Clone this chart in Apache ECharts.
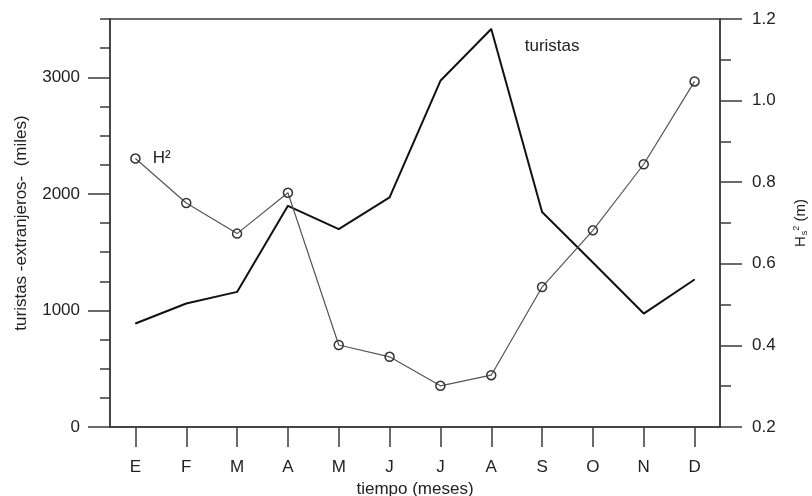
<!DOCTYPE html>
<html>
<head>
<meta charset="utf-8">
<script src="https://cdn.jsdelivr.net/npm/echarts@6/dist/echarts.min.js"></script>
<style>
  html, body { margin: 0; padding: 0; background: #fff; }
  #chart { width: 812px; height: 496px; }
</style>
</head>
<body>
<div id="chart"></div>
<script>
// Monthly foreign tourists (thousands) and Hs² (m)
const months = ['E', 'F', 'M', 'A', 'M', 'J', 'J', 'A', 'S', 'O', 'N', 'D'];
const turistas = [888, 1059, 1159, 1897, 1697, 1969, 2970, 3414, 1845, 1411, 973, 1265];
const hs2 = [0.858, 0.749, 0.674, 0.774, 0.401, 0.372, 0.301, 0.327, 0.543, 0.682, 0.844, 1.047];
const leftMajorTicks = [0, 1000, 2000, 3000];

const FONT = 'Liberation Sans, Arial, sans-serif';
const INK = '#222';
const AXIS = '#3a3a3a';

const peakIdx = turistas.indexOf(Math.max(...turistas));

const chart = echarts.init(document.getElementById('chart'), null, { renderer: 'canvas' });

chart.setOption({
  animation: false,
  backgroundColor: '#fff',
  textStyle: { fontFamily: FONT, color: INK },
  grid: {
    left: 110, right: 92, top: 19, bottom: 69,
    containLabel: false,
    outerBoundsMode: 'none',
    show: true, borderColor: AXIS, borderWidth: 1.5, backgroundColor: 'transparent'
  },
  xAxis: {
    type: 'category',
    data: months,
    boundaryGap: true,
    name: 'tiempo (meses)',
    nameLocation: 'middle',
    nameGap: 51,
    nameTextStyle: { fontSize: 17, color: INK, fontFamily: FONT },
    axisLine: { lineStyle: { color: AXIS, width: 1.5 } },
    axisTick: { show: true, alignWithLabel: true, length: 20, lineStyle: { color: AXIS, width: 1.5 } },
    axisLabel: { margin: 32, fontSize: 17, color: INK, fontFamily: FONT },
    splitLine: { show: false }
  },
  yAxis: [
    {
      type: 'value',
      position: 'left',
      min: 0, max: 3500, interval: 250,
      name: 'turistas -extranjeros-  (miles)',
      nameLocation: 'middle',
      nameRotate: 90,
      nameGap: 80,
      nameTextStyle: { fontSize: 17, color: INK, fontFamily: FONT },
      axisLine: { show: true, lineStyle: { color: AXIS, width: 1.5 } },
      axisTick: { show: true, length: 10, lineStyle: { color: AXIS, width: 1.5 } },
      axisLabel: {
        margin: 30, fontSize: 17, color: INK, fontFamily: FONT,
        formatter: v => (leftMajorTicks.indexOf(v) >= 0 ? String(v) : '')
      },
      splitLine: { show: false }
    },
    {
      type: 'value',
      position: 'left',
      min: 0, max: 3500,
      axisLine: { show: false },
      axisTick: { show: true, length: 22, customValues: leftMajorTicks, lineStyle: { color: AXIS, width: 1.5 } },
      axisLabel: { show: false },
      splitLine: { show: false }
    },
    {
      type: 'value',
      position: 'right',
      min: 0.2, max: 1.2, interval: 0.2,
      name: '{h|H}{sub|s}{sup|2}{h| (m)}',
      nameLocation: 'middle',
      nameRotate: 90,
      nameGap: 72,
      nameTextStyle: {
        fontSize: 15, color: INK, fontFamily: FONT,
        rich: {
          h: { fontSize: 15, color: INK, fontFamily: FONT },
          sub: { fontSize: 9, color: INK, fontFamily: FONT, padding: [8, 0, 0, 1] },
          sup: { fontSize: 9, color: INK, fontFamily: FONT, padding: [0, 0, 8, 0] }
        }
      },
      axisLine: { show: true, lineStyle: { color: AXIS, width: 1.5 } },
      axisTick: { show: true, length: 22, lineStyle: { color: AXIS, width: 1.5 } },
      minorTick: { show: true, splitNumber: 2, length: 11, lineStyle: { color: AXIS, width: 1.5 } },
      axisLabel: {
        margin: 32, fontSize: 17, color: INK, fontFamily: FONT,
        formatter: v => v.toFixed(1)
      },
      splitLine: { show: false }
    }
  ],
  series: [
    {
      name: 'turistas',
      type: 'line',
      yAxisIndex: 0,
      data: turistas.map((v, i) => i === peakIdx
        ? { value: v, label: { show: true } }
        : v),
      symbol: 'circle',
      symbolSize: 1,
      itemStyle: { color: '#111' },
      lineStyle: { color: '#111', width: 2 },
      label: {
        show: false,
        formatter: '{a}',
        position: 'right',
        distance: 33,
        offset: [0, 17],
        fontSize: 17, color: INK, fontFamily: FONT
      },
      z: 3
    },
    {
      name: 'H²',
      type: 'line',
      yAxisIndex: 2,
      data: hs2.map((v, i) => i === 0
        ? { value: v, label: { show: true } }
        : v),
      symbol: 'circle',
      symbolSize: 9,
      itemStyle: { color: 'rgba(0,0,0,0)', borderColor: '#333', borderWidth: 1.5 },
      lineStyle: { color: '#555', width: 1.2 },
      label: {
        show: false,
        formatter: '{a}',
        position: 'right',
        distance: 12,
        fontSize: 17, color: INK, fontFamily: FONT
      },
      z: 4
    }
  ]
});
</script>
</body>
</html>
